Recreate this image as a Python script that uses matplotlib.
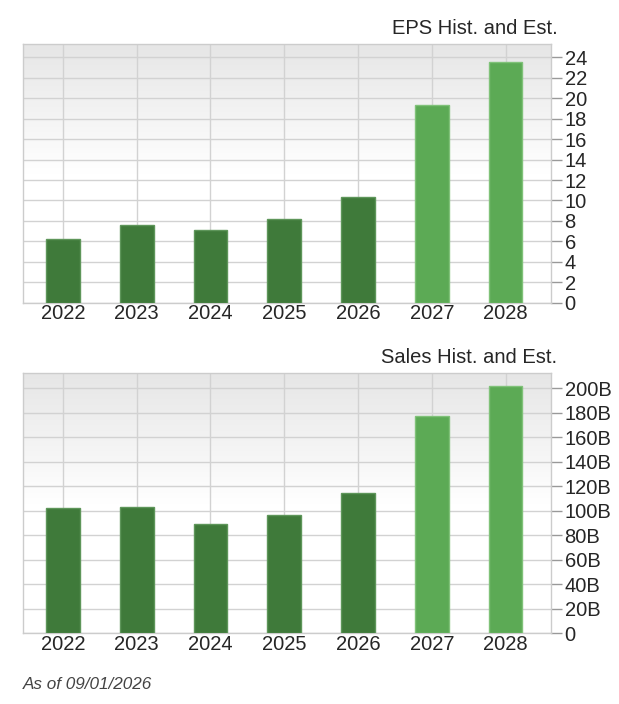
import numpy as np
import matplotlib
matplotlib.use("Agg")
import matplotlib.pyplot as plt
from matplotlib.colors import LinearSegmentedColormap

years = ["2022", "2023", "2024", "2025", "2026", "2027", "2028"]
eps = [6.2, 7.6, 7.15, 8.2, 10.3, 19.35, 23.55]
sales = [102, 103.4, 89.2, 96.3, 114.3, 176.8, 201.3]  # billions
is_estimate = [False, False, False, False, False, True, True]

eps_ticks = list(range(0, 25, 2))
sales_ticks = list(range(0, 201, 20))

plt.rcParams["font.family"] = ["Liberation Sans", "DejaVu Sans"]

hist_col, hist_edge = "#3f7a3a", "#5e965a"
est_col, est_edge = "#5caa55", "#80c279"
grad = LinearSegmentedColormap.from_list("bg", ["#ffffff", "#ffffff", "#e6e6e6"])

fig = plt.figure(figsize=(6.19, 7.04), dpi=100)


def draw_panel(rect, values, ticks, ymax, title, fmt):
    ax = fig.add_axes(rect)
    x = np.arange(len(years))
    # gradient background
    ax.imshow(np.linspace(0, 1, 256).reshape(-1, 1), cmap=grad, aspect="auto",
              extent=[-0.546, 6.613, 0, ymax], origin="lower", zorder=0)
    colors = [est_col if e else hist_col for e in is_estimate]
    edges = [est_edge if e else hist_edge for e in is_estimate]
    ax.bar(x, values, width=0.46, color=colors, edgecolor=edges, linewidth=1, zorder=3)
    ax.set_xlim(-0.546, 6.613)
    ax.set_ylim(0, ymax)
    ax.set_xticks(x)
    ax.set_xticklabels(years, fontsize=14.5, color="#262626")
    ax.set_yticks(ticks)
    ax.set_yticklabels([fmt(t) for t in ticks], fontsize=14.5, color="#262626")
    ax.yaxis.tick_right()
    ax.tick_params(axis="y", length=8, width=1, color="#999999", pad=2)
    ax.tick_params(axis="x", length=0, pad=1)
    ax.grid(True, color="#d2d2d2", linewidth=1, zorder=1)
    ax.set_axisbelow(True)
    for s in ax.spines.values():
        s.set_color("#cccccc")
        s.set_linewidth(1)
    t = ax.set_title(title, loc="right", fontsize=14.5, color="#262626", pad=7.5)
    t.set_x(1.013)
    return ax


draw_panel([0.0367, 0.570, 0.853, 0.3675], eps, eps_ticks, 25.3,
           "EPS Hist. and Est.", lambda t: str(t))
draw_panel([0.0367, 0.1004, 0.853, 0.3693], sales, sales_ticks, 212,
           "Sales Hist. and Est.", lambda t: "0" if t == 0 else f"{t}B")

fig.text(0.0367, 0.028, "As of 09/01/2026", fontsize=12.3, style="italic",
         color="#444444", ha="left", va="center")

fig.savefig("out.png", dpi=100)
